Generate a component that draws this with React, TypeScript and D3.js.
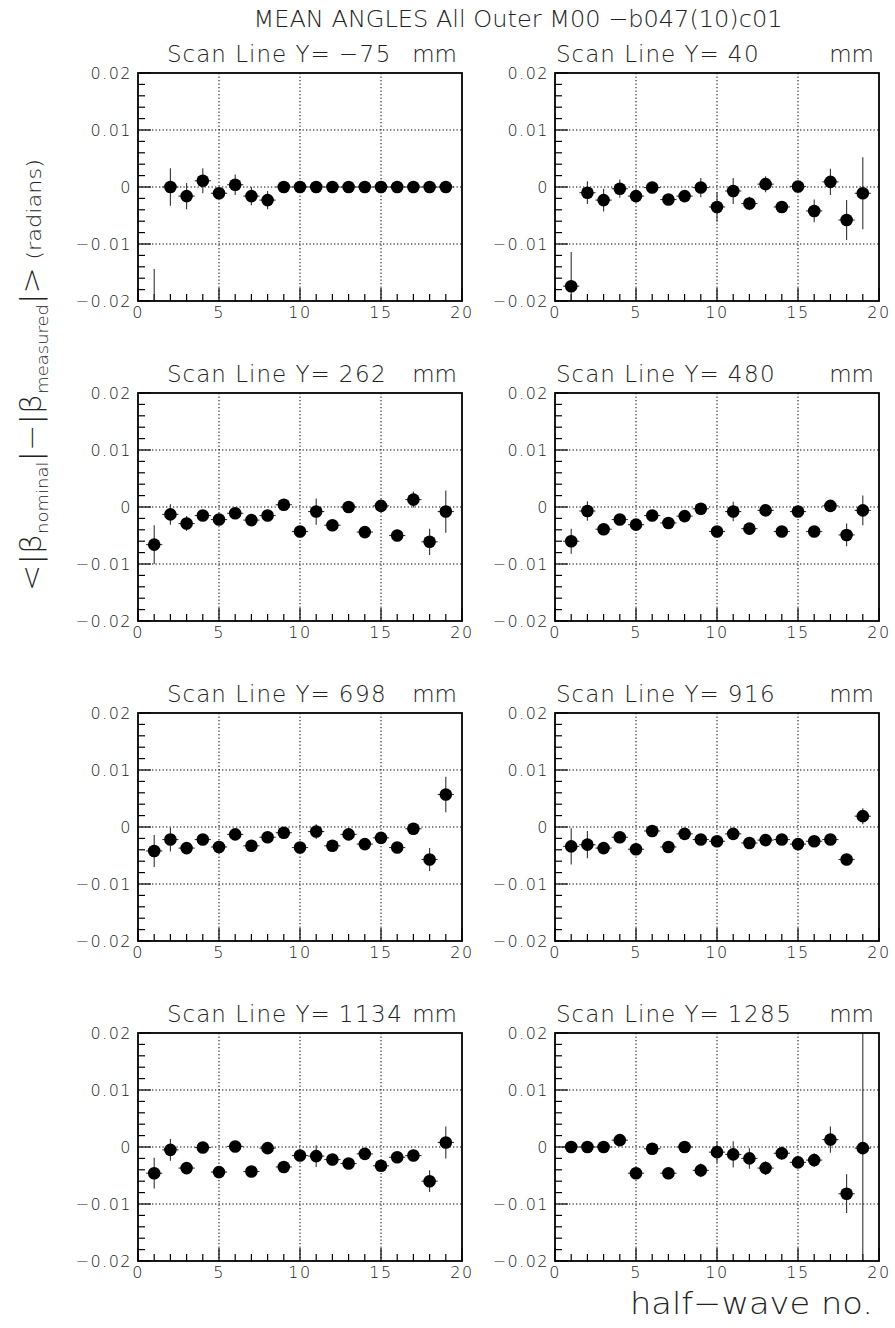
import React from "react";
import * as d3 from "d3";

const halfWave = [1, 2, 3, 4, 5, 6, 7, 8, 9, 10, 11, 12, 13, 14, 15, 16, 17, 18, 19];
const scanLines = ["−75", "40", "262", "480", "698", "916", "1134", "1285"];
const yTickValues = [-0.02, -0.01, 0, 0.01, 0.02];
const xTickValues = [0, 5, 10, 15, 20];

const mean_m75 = [-0.026, 0.0, -0.0016, 0.0011, -0.0011, 0.0004, -0.0016, -0.0023, 0, 0, 0, 0, 0, 0, 0, 0, 0, 0, 0];
const err_m75 = [0.0116, 0.0033, 0.0023, 0.0022, 0.0008, 0.0018, 0.0016, 0.0016, 0, 0, 0, 0, 0, 0, 0, 0, 0, 0, 0];

const mean_40 = [-0.0174, -0.001, -0.0023, -0.0003, -0.0016, -0.0001, -0.0022, -0.0016, -0.0001, -0.0035, -0.0007, -0.0029, 0.0005, -0.0035, 0.0001, -0.0042, 0.0009, -0.0058, -0.0011];
const err_40 = [0.006, 0.002, 0.002, 0.0016, 0.001, 0.0008, 0.0008, 0.0008, 0.0017, 0.0026, 0.0023, 0.0012, 0.0014, 0.0008, 0.001, 0.002, 0.0023, 0.0035, 0.0063];

const mean_262 = [-0.0066, -0.0013, -0.0029, -0.0015, -0.0022, -0.0011, -0.0023, -0.0015, 0.0004, -0.0043, -0.0008, -0.0032, 0.0, -0.0044, 0.0002, -0.005, 0.0013, -0.0061, -0.0008];
const err_262 = [0.0034, 0.0018, 0.0013, 0.0008, 0.0008, 0.0008, 0.0008, 0.0008, 0.0008, 0.0008, 0.0023, 0.0008, 0.0008, 0.0008, 0.0008, 0.001, 0.0014, 0.0023, 0.0037];

const mean_480 = [-0.006, -0.0007, -0.0039, -0.0022, -0.0031, -0.0015, -0.0028, -0.0016, -0.0003, -0.0043, -0.0008, -0.0038, -0.0006, -0.0043, -0.0008, -0.0043, 0.0002, -0.0049, -0.0006];
const err_480 = [0.0022, 0.0017, 0.001, 0.0008, 0.0008, 0.0008, 0.0008, 0.0008, 0.0008, 0.0008, 0.0017, 0.0008, 0.0008, 0.0008, 0.0008, 0.0008, 0.001, 0.002, 0.0026];

const mean_698 = [-0.0042, -0.0022, -0.0037, -0.0022, -0.0035, -0.0013, -0.0033, -0.0018, -0.001, -0.0036, -0.0008, -0.0033, -0.0013, -0.003, -0.0019, -0.0036, -0.0003, -0.0057, 0.0057];
const err_698 = [0.0028, 0.0021, 0.001, 0.0008, 0.0008, 0.0008, 0.0008, 0.0008, 0.0008, 0.0008, 0.0013, 0.0008, 0.0008, 0.0008, 0.0008, 0.0008, 0.001, 0.002, 0.0031];

const mean_916 = [-0.0034, -0.0031, -0.0037, -0.0018, -0.0039, -0.0007, -0.0035, -0.0012, -0.0022, -0.0025, -0.0012, -0.0028, -0.0023, -0.0022, -0.003, -0.0025, -0.0022, -0.0057, 0.0019];
const err_916 = [0.0032, 0.0024, 0.001, 0.0008, 0.0008, 0.0008, 0.0008, 0.0008, 0.0008, 0.0008, 0.001, 0.0008, 0.0008, 0.0008, 0.0008, 0.0008, 0.0008, 0.001, 0.0014];

const mean_1134 = [-0.0046, -0.0005, -0.0037, -0.0001, -0.0044, 0.0001, -0.0043, -0.0002, -0.0035, -0.0015, -0.0016, -0.0022, -0.0029, -0.0012, -0.0033, -0.0018, -0.0015, -0.006, 0.0008];
const err_1134 = [0.0027, 0.0019, 0.0008, 0.0008, 0.0008, 0.0008, 0.0008, 0.0008, 0.0008, 0.001, 0.0019, 0.001, 0.0008, 0.0008, 0.0008, 0.0008, 0.001, 0.0019, 0.0028];

const mean_1285 = [0, 0, 0, 0.0012, -0.0046, -0.0003, -0.0046, 0, -0.0041, -0.0009, -0.0013, -0.002, -0.0037, -0.0011, -0.0027, -0.0023, 0.0013, -0.0082, -0.0002];
const err_1285 = [0, 0, 0, 0.0008, 0.0008, 0.0008, 0.0008, 0.0008, 0.0012, 0.0019, 0.0023, 0.0018, 0.0012, 0.0012, 0.0008, 0.0012, 0.0023, 0.0034, 0.05];

const panelMeans = [mean_m75, mean_40, mean_262, mean_480, mean_698, mean_916, mean_1134, mean_1285];
const panelErrs = [err_m75, err_40, err_262, err_480, err_698, err_916, err_1134, err_1285];

const W = 895;
const HT = 1328;
const COLS = [
  { x0: 138, x1: 462, titleX: 167 },
  { x0: 555, x1: 879, titleX: 556 },
];
const ROWS = [73, 393, 713, 1033];
const PH = 228;
const FONT = "'DejaVu Sans', 'Liberation Sans', sans-serif";
const TXT = "#222";

function fmtY(v: number) {
  if (Math.abs(v) < 1e-12) return "0";
  return d3.format(".2f")(v);
}

function Panel({ idx }: { idx: number }) {
  const col = COLS[idx % 2];
  const top = ROWS[Math.floor(idx / 2)];
  const bottom = top + PH;
  const x = d3.scaleLinear().domain([0, 20]).range([col.x0, col.x1]);
  const y = d3.scaleLinear().domain([-0.02, 0.02]).range([bottom, top]);
  const means = panelMeans[idx];
  const errs = panelErrs[idx];
  const clipId = `clip-${idx}`;
  const minorY = y.ticks(20);
  const minorX = x.ticks(20);
  const gridX = [5, 10, 15];
  const gridY = [-0.01, 0, 0.01];
  return (
    <g>
      <defs>
        <clipPath id={clipId}>
          <rect x={col.x0} y={top} width={col.x1 - col.x0} height={PH} />
        </clipPath>
      </defs>
      {gridX.map((v) => (
        <line key={"gx" + v} x1={x(v)} x2={x(v)} y1={top} y2={bottom} stroke="#000" strokeWidth={1} strokeDasharray="1.3 2.2" />
      ))}
      {gridY.map((v) => (
        <line key={"gy" + v} x1={col.x0} x2={col.x1} y1={y(v)} y2={y(v)} stroke="#000" strokeWidth={1} strokeDasharray="1.3 2.2" />
      ))}
      {minorY.map((v) => {
        const major = yTickValues.some((t) => Math.abs(t - v) < 1e-9);
        return <line key={"ty" + v} x1={col.x0} x2={col.x0 + (major ? 13 : 7)} y1={y(v)} y2={y(v)} stroke="#000" strokeWidth={1.2} />;
      })}
      {minorX.map((v) => {
        const major = v % 5 === 0;
        return <line key={"tx" + v} x1={x(v)} x2={x(v)} y1={bottom} y2={bottom - (major ? 13 : 7)} stroke="#000" strokeWidth={1.2} />;
      })}
      <g clipPath={`url(#${clipId})`}>
        {halfWave.map((h, i) => (
          <g key={"p" + h}>
            <line x1={x(h - 0.5)} x2={x(h + 0.5)} y1={y(means[i])} y2={y(means[i])} stroke="#333" strokeWidth={1.1} />
            {errs[i] > 0 && (
              <line x1={x(h)} x2={x(h)} y1={y(means[i] - errs[i])} y2={y(means[i] + errs[i])} stroke="#333" strokeWidth={1.1} />
            )}
            <circle cx={x(h)} cy={y(means[i])} r={6.3} fill="#000" />
          </g>
        ))}
      </g>
      <rect x={col.x0} y={top} width={col.x1 - col.x0} height={PH} fill="none" stroke="#000" strokeWidth={1.8} />
      {yTickValues.map((v) => (
        <text key={"ly" + v} x={col.x0 - 6} y={y(v) + 6} textAnchor="end" fontSize={16} letterSpacing={1.5} fontFamily={FONT} fill={TXT} fontWeight={300}>
          {fmtY(v)}
        </text>
      ))}
      {xTickValues.map((v) => (
        <text key={"lx" + v} x={x(v)} y={bottom + 17} textAnchor="middle" fontSize={16} letterSpacing={1.5} fontFamily={FONT} fill={TXT} fontWeight={300}>
          {v}
        </text>
      ))}
      <text x={col.titleX} y={top - 11} fontSize={23} fontFamily={FONT} fill={TXT} fontWeight={300}>
        <tspan letterSpacing={1}>Scan Line Y=</tspan>
        <tspan dx={8} letterSpacing={1.5}>{scanLines[idx]}</tspan>
      </text>
      <text x={col.x1 - 5} y={top - 11} textAnchor="end" fontSize={23} fontFamily={FONT} fill={TXT} fontWeight={300}>
        mm
      </text>
    </g>
  );
}

export default function App() {
  return (
    <svg width={W} height={HT} style={{ position: "absolute", left: 0, top: 0, background: "#fff" }}>
      <rect x={0} y={0} width={W} height={HT} fill="#fff" />
      <text x={518} y={27} textAnchor="middle" fontSize={23} fontFamily={FONT} fill={TXT} fontWeight={300} textLength={529} lengthAdjust="spacingAndGlyphs">
        MEAN ANGLES All Outer M00 −b047(10)c01
      </text>
      {scanLines.map((_, i) => (
        <Panel key={i} idx={i} />
      ))}
      <text
        transform="translate(41,375) rotate(-90)"
        textAnchor="middle"
        fontFamily={FONT}
        fill={TXT}
        fontWeight={300}
        textLength={432}
        lengthAdjust="spacingAndGlyphs"
      >
        <tspan fontSize={28}>{"<|β"}</tspan>
        <tspan fontSize={16} dy={7}>nominal</tspan>
        <tspan fontSize={28} dy={-7}>{"|−|β"}</tspan>
        <tspan fontSize={16} dy={7}>measured</tspan>
        <tspan fontSize={28} dy={-7}>{"|>"}</tspan>
        <tspan fontSize={20}>{" (radians)"}</tspan>
      </text>
      <text x={873} y={1314} textAnchor="end" fontSize={31} fontFamily={FONT} fill={TXT} fontWeight={300} textLength={243} lengthAdjust="spacingAndGlyphs">
        half−wave no.
      </text>
    </svg>
  );
}
